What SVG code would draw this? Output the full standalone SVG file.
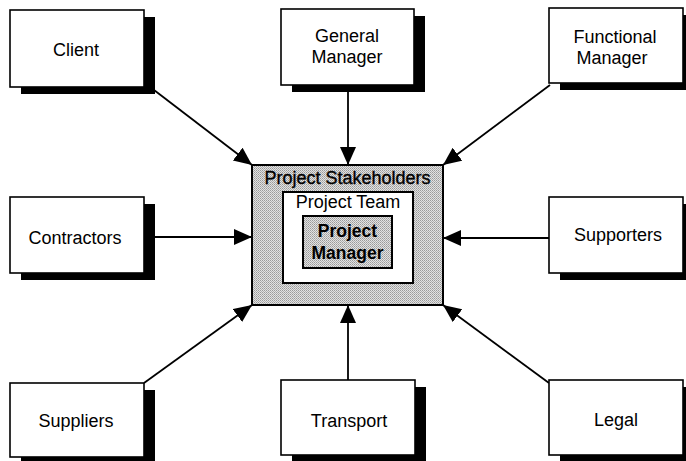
<svg xmlns="http://www.w3.org/2000/svg" width="686" height="461" viewBox="0 0 686 461">
  <defs>
    <pattern id="stipple" width="2" height="2" patternUnits="userSpaceOnUse">
      <rect width="2" height="2" fill="#e2e2e2"/>
      <rect width="1" height="1" fill="#9a9a9a"/>
      <rect x="1" y="1" width="1" height="1" fill="#b0b0b0"/>
    </pattern>
    <marker id="arrow" markerUnits="userSpaceOnUse" markerWidth="20" markerHeight="18" refX="18" refY="8" orient="auto">
      <path d="M0,0 L18,8 L0,16 Z" fill="#000"/>
    </marker>
  </defs>
  <style>
    .shadow { fill: #000; }
    .box { fill: #fff; stroke: #000; stroke-width: 1.6; }
    .label { font-family: "Liberation Sans", Arial, sans-serif; font-size: 18px; fill: #000; text-anchor: middle; }
    .heavy { stroke: #000; stroke-width: 0.35; }
    .bold { font-weight: bold; font-size: 17.5px; }
    .conn { stroke: #000; stroke-width: 1.8; fill: none; marker-end: url(#arrow); }
  </style>
  <rect width="686" height="461" fill="#fff"/>

  <!-- connectors -->
  <g id="connectors">
    <line class="conn" x1="154" y1="90" x2="252" y2="165"/>
    <line class="conn" x1="348" y1="92" x2="348" y2="165"/>
    <line class="conn" x1="550" y1="85" x2="443" y2="165"/>
    <line class="conn" x1="155" y1="237" x2="252" y2="237"/>
    <line class="conn" x1="549" y1="238" x2="443" y2="238"/>
    <line class="conn" x1="144" y1="383" x2="252" y2="305"/>
    <line class="conn" x1="348" y1="380" x2="348" y2="305"/>
    <line class="conn" x1="549" y1="383" x2="443" y2="305"/>
  </g>

  <!-- central stakeholder box -->
  <g id="stakeholders">
    <rect x="252" y="165" width="191" height="140" fill="url(#stipple)" stroke="#000" stroke-width="2"/>
    <text class="label heavy" x="347.5" y="184">Project Stakeholders</text>
  </g>
  <g id="project-team">
    <rect x="283" y="192" width="130" height="91" fill="#fff" stroke="#000" stroke-width="2"/>
    <text class="label" x="348" y="208">Project Team</text>
  </g>
  <g id="project-manager">
    <rect x="303" y="216" width="89" height="52" fill="url(#stipple)" stroke="#000" stroke-width="2"/>
    <text class="label bold" x="347.5" y="237">Project</text>
    <text class="label bold" x="347.5" y="259">Manager</text>
  </g>

  <!-- surrounding stakeholders -->
  <g id="client">
    <rect class="shadow" x="21" y="17" width="134" height="77"/>
    <rect class="box" x="10" y="10" width="134" height="77"/>
    <text class="label" x="76" y="56">Client</text>
  </g>
  <g id="general-manager">
    <rect class="shadow" x="292" y="16" width="133" height="76"/>
    <rect class="box" x="281" y="9" width="133" height="76"/>
    <text class="label" x="347" y="42">General</text>
    <text class="label" x="347" y="63">Manager</text>
  </g>
  <g id="functional-manager">
    <rect class="shadow" x="560" y="15" width="134" height="75"/>
    <rect class="box" x="549" y="8" width="134" height="75"/>
    <text class="label" x="615" y="43">Functional</text>
    <text class="label" x="612" y="64">Manager</text>
  </g>
  <g id="contractors">
    <rect class="shadow" x="21" y="204" width="134" height="76"/>
    <rect class="box" x="10" y="197" width="134" height="76"/>
    <text class="label" x="75" y="244">Contractors</text>
  </g>
  <g id="supporters">
    <rect class="shadow" x="560" y="204" width="134" height="76"/>
    <rect class="box" x="549" y="197" width="134" height="76"/>
    <text class="label" x="618" y="241">Supporters</text>
  </g>
  <g id="suppliers">
    <rect class="shadow" x="21" y="390" width="134" height="74"/>
    <rect class="box" x="10" y="383" width="134" height="74"/>
    <text class="label" x="76" y="427">Suppliers</text>
  </g>
  <g id="transport">
    <rect class="shadow" x="292" y="387" width="134" height="75"/>
    <rect class="box" x="281" y="380" width="134" height="75"/>
    <text class="label" x="349" y="427">Transport</text>
  </g>
  <g id="legal">
    <rect class="shadow" x="560" y="387" width="134" height="75"/>
    <rect class="box" x="549" y="380" width="134" height="75"/>
    <text class="label" x="616" y="426">Legal</text>
  </g>
</svg>
